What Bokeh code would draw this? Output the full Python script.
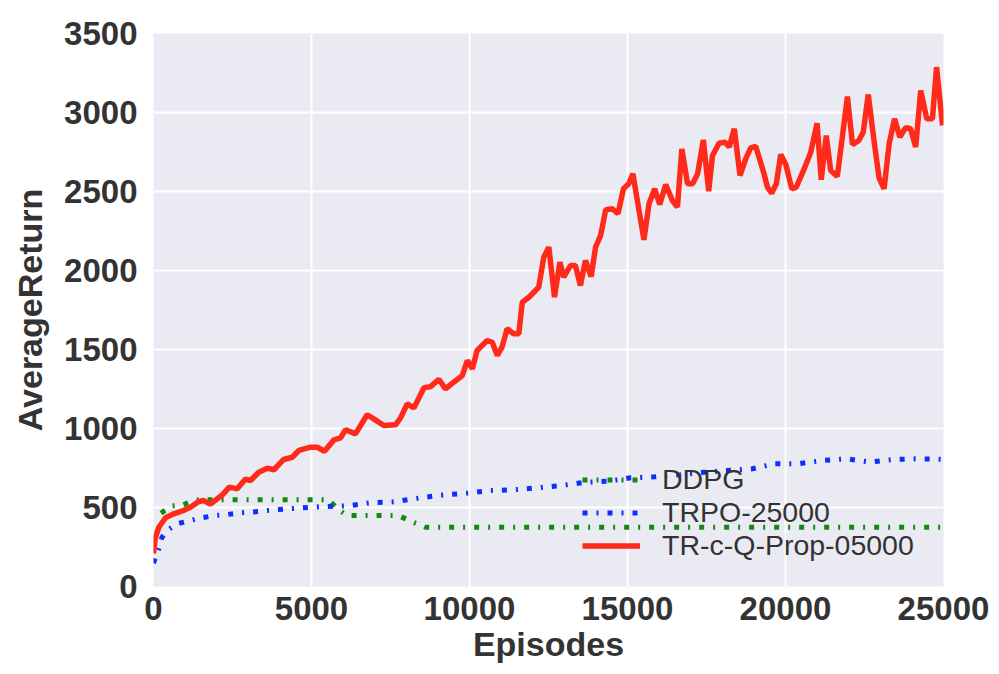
from bokeh.plotting import figure
from bokeh.models import Legend, LegendItem, Range1d, FixedTicker
from bokeh.embed import file_html
from bokeh.resources import INLINE

# ---------------- data ----------------
x_ticks = [0, 5000, 10000, 15000, 20000, 25000]
y_ticks = [0, 500, 1000, 1500, 2000, 2500, 3000, 3500]

ddpg_ep = [240, 540, 910, 1330, 1650, 2500, 3500, 4500, 5550, 5810, 6130, 7000, 7750,
           8290, 8610, 12000, 16000, 20000, 25000]
ddpg_ret = [464, 510, 515, 548, 549, 549, 549, 549, 549, 492, 449, 449, 449,
            401, 375, 375, 375, 375, 375]

trpo_ep = [0, 90, 170, 270, 430, 750, 1170, 1540, 1910, 2280, 2700, 3070, 3810, 4600,
           5340, 6130, 6870, 7610, 8400, 9100, 9930, 10670, 11400, 12150, 12900,
           13670, 14410, 15100, 15860, 16680, 17420, 18180, 18950, 19660, 20400,
           21160, 21930, 22670, 23400, 24100, 25000]
trpo_ret = [147, 200, 238, 312, 354, 397, 418, 435, 449, 454, 466, 470, 485, 496,
            506, 510, 530, 536, 560, 578, 591, 608, 612, 625, 639,
            660, 667, 688, 694, 708, 723, 734, 745, 777, 777,
            797, 808, 787, 804, 808, 805]

qprop_ep = [0, 60, 170, 380, 640, 960, 1170, 1430, 1590, 1800, 2015, 2180, 2400, 2650,
            2910, 3070, 3330, 3600, 3810, 4120, 4390, 4600, 4970, 5180, 5410, 5710,
            5920, 6080, 6390, 6760, 6970, 7290, 7660, 7820, 8030, 8240, 8560, 8770,
            9030, 9240, 9500, 9770, 9930, 10090, 10240, 10560, 10720, 10880, 11030,
            11190, 11400, 11560, 11670, 11880, 12190, 12350, 12510, 12690, 12860,
            12980, 13200, 13350, 13510, 13670, 13850, 13990, 14150, 14310, 14520,
            14700, 14870, 15040, 15170, 15520, 15680, 15860, 16020, 16210, 16420,
            16580, 16720, 16900, 17060, 17220, 17400, 17570, 17690, 17900, 18090,
            18220, 18380, 18560, 18740, 18900, 19060, 19320, 19430, 19560, 19710,
            19850, 20010, 20200, 20340, 20590, 20800, 21000, 21130, 21290, 21430,
            21640, 21960, 22120, 22320, 22460, 22620, 22800, 22960, 23120, 23280,
            23450, 23620, 23800, 23960, 24120, 24280, 24470, 24650, 24780, 24970]
qprop_ret = [210, 310, 375, 435, 460, 482, 502, 538, 544, 521, 555, 580, 629, 618,
             680, 671, 723, 749, 739, 804, 818, 861, 882, 882, 856, 928,
             941, 992, 966, 1087, 1061, 1019, 1023, 1068, 1156, 1130, 1258, 1265,
             1312, 1251, 1293, 1335, 1430, 1378, 1494, 1557, 1546, 1462, 1515,
             1631, 1599, 1599, 1799, 1831, 1894, 2084, 2148, 1831, 2053,
             1958, 2032, 2032, 1905, 2063, 1962, 2148, 2222, 2384, 2391,
             2359, 2517, 2549, 2612, 2194, 2422, 2517, 2418, 2544, 2443,
             2401, 2770, 2549, 2549, 2612, 2827, 2502, 2728, 2806, 2812,
             2781, 2897, 2601, 2707, 2776, 2785, 2612, 2527, 2489, 2549,
             2734, 2671, 2517, 2527, 2643, 2749, 2932, 2574, 2854, 2633,
             2595, 3101, 2797, 2823, 2875, 3114, 2823, 2587, 2517, 2802,
             2960, 2844, 2904, 2897, 2781, 3139, 2960, 2960, 3287, 2918]

labels = ["DDPG", "TRPO-25000", "TR-c-Q-Prop-05000"]

# ---------------- figure ----------------
p = figure(width=999, height=674, output_backend="svg", toolbar_location=None,
           x_range=Range1d(0, 25000), y_range=Range1d(0, 3500),
           min_border_left=153, min_border_right=56, min_border_top=33,
           min_border_bottom=88)
p.background_fill_color = "#EAEAF2"
p.border_fill_color = "white"
p.outline_line_color = None

p.grid.grid_line_color = "white"
p.grid.grid_line_width = 2

p.xaxis.ticker = FixedTicker(ticks=x_ticks)
p.yaxis.ticker = FixedTicker(ticks=y_ticks)
p.xaxis.major_label_overrides = {t: str(t) for t in x_ticks}
p.yaxis.major_label_overrides = {t: str(t) for t in y_ticks}

for ax in (p.xaxis, p.yaxis):
    ax.axis_line_color = None
    ax.major_tick_line_color = None
    ax.minor_tick_line_color = None
    ax.major_tick_out = 0
    ax.major_tick_in = 0
    ax.major_label_text_font = "Liberation Sans"
    ax.major_label_text_font_size = "33px"
    ax.major_label_text_font_style = "bold"
    ax.major_label_text_color = "#333333"
    ax.axis_label_text_font = "Liberation Sans"
    ax.axis_label_text_font_size = "34px"
    ax.axis_label_text_font_style = "bold"
    ax.axis_label_text_color = "#333333"

p.xaxis.axis_label = "Episodes"
p.yaxis.axis_label = "AverageReturn"
p.xaxis.major_label_standoff = 10
p.yaxis.major_label_standoff = 16
p.xaxis.axis_label_standoff = 2
p.yaxis.axis_label_standoff = 12

g = p.line(ddpg_ep, ddpg_ret, line_color="#128a12", line_width=5, line_dash="5 9 2 9")
b = p.line(trpo_ep, trpo_ret, line_color="#0f2dff", line_width=5, line_dash="5 9 2 9")
r = p.line(qprop_ep, qprop_ret, line_color="#ff2a1a", line_width=5.5)

legend = Legend(items=[LegendItem(label=labels[0], renderers=[g]),
                       LegendItem(label=labels[1], renderers=[b]),
                       LegendItem(label=labels[2], renderers=[r])],
                location=(429, 24))
legend.border_line_color = None
legend.background_fill_alpha = 0
legend.padding = 0
legend.margin = 0
legend.spacing = 0
legend.glyph_width = 58
legend.glyph_height = 31
legend.label_height = 31
legend.label_standoff = 22
legend.label_text_font = "Liberation Sans"
legend.label_text_font_size = "28.5px"
legend.label_text_color = "#333333"
p.add_layout(legend)

open("out.html", "w").write(file_html(p, INLINE))
